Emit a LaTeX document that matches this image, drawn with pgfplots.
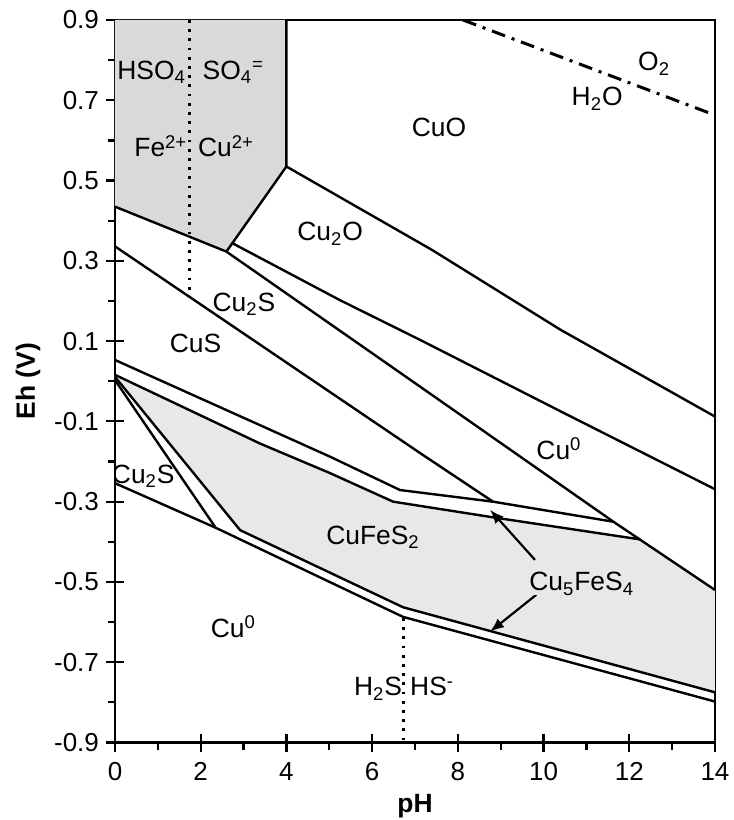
\documentclass[border=0pt]{standalone}
\usepackage{fontspec}
\setmainfont{Liberation Sans}
\usepackage{pgfplots}
\pgfplotsset{compat=1.18}
\usetikzlibrary{arrows.meta}
\newcommand\fs{\fontsize{13.2}{15.5}\selectfont}
\newcommand\ft{\fontsize{13}{15.5}\selectfont}
\begin{document}
\begin{tikzpicture}[font=\fs]
\begin{axis}[name=ax, scale only axis, width=300pt, height=361.25pt,
  xmin=0, xmax=14, ymin=-0.9, ymax=0.9,
  xtick={0,2,4,6,8,10,12,14}, minor xtick={1,3,5,7,9,11,13},
  ytick={-0.9,-0.7,-0.5,-0.3,-0.1,0.1,0.3,0.5,0.7,0.9},
  yticklabels={-0.9,-0.7,-0.5,-0.3,-0.1,0.1,0.3,0.5,0.7,0.9},
  minor ytick={-0.8,-0.6,-0.4,-0.2,0,0.2,0.4,0.6,0.8},
  tick pos=left, tick align=center,
  major tick length=9pt, minor tick length=3.5pt,
  minor x tick style={yshift=-1.75pt},
  minor y tick style={xshift=-1.75pt},
  tick style={line width=1.1pt, black},
  axis line style={line width=1.1pt},
  /pgf/number format/assume math mode=true,
  ticklabel style={font=\ft},
  xticklabel style={yshift=-2pt},
  xlabel={\textbf{pH}}, ylabel={\textbf{Eh (V)}},
  label style={font=\fs},
  clip=true]
% fills
\addplot[fill=black!15, draw=none] coordinates {(0,0.9) (4,0.9) (4,0.535) (2.6,0.323) (0,0.435)} --cycle;
\addplot[fill=black!9, draw=none] coordinates {(0,0.016) (3.38,-0.155) (5.02,-0.229) (6.49,-0.30) (8.82,-0.339) (12.25,-0.394) (14,-0.52) (14,-0.775) (6.72,-0.563) (2.92,-0.371) (0,0.011)} --cycle;
% boundary lines
\addplot[black, line width=1.2pt] coordinates {(0,0.435) (2.6,0.323) (4,0.535) (4,0.9)};
\addplot[black, line width=1.2pt] coordinates {(4,0.535) (7.4,0.327) (10.4,0.128) (14,-0.088)};
\addplot[black, line width=1.2pt] coordinates {(2.72,0.345) (5.25,0.202) (7.12,0.103) (10.38,-0.074) (14,-0.269)};
\addplot[black, line width=1.2pt] coordinates {(2.6,0.323) (7.12,-0.0135) (11.63,-0.35) (14,-0.52)};
\addplot[black, line width=1.2pt] coordinates {(0,0.336) (7.12,-0.179) (8.82,-0.30)};
\addplot[black, line width=1.2pt] coordinates {(0,0.053) (5.02,-0.188) (6.65,-0.271) (8.82,-0.30) (11.63,-0.35)};
\addplot[black, line width=1.2pt] coordinates {(0,0.016) (3.38,-0.155) (5.02,-0.229) (6.49,-0.30) (8.82,-0.339) (12.25,-0.394)};
\addplot[black, line width=1.2pt] coordinates {(0,0.003) (2.33,-0.362)};
\addplot[black, line width=1.2pt] coordinates {(0,0.011) (2.92,-0.371) (6.72,-0.563) (14,-0.775)};
\addplot[black, line width=1.2pt] coordinates {(0,-0.254) (2.37,-0.366) (6.72,-0.587) (14,-0.798)};
% dotted
\addplot[black, line width=1.4pt, dash pattern=on 1.4pt off 3.2pt] coordinates {(1.73,0.9) (1.73,0.211)};
\addplot[black, line width=1.4pt, dash pattern=on 1.4pt off 3.2pt] coordinates {(6.73,-0.59) (6.73,-0.9)};
% dash-dot water line
\addplot[black, line width=1.5pt, dash pattern=on 7pt off 3.5pt on 1.5pt off 3.5pt] coordinates {(8.12,0.9) (14,0.663)};
% arrows
\addplot[black, line width=1.1pt, -{Latex[length=7pt,width=5.5pt]}] coordinates {(9.8,-0.445) (8.75,-0.32)};
\addplot[black, line width=1.1pt, -{Latex[length=7pt,width=5.5pt]}] coordinates {(9.83,-0.532) (8.75,-0.624)};
% labels
\node[anchor=base, inner sep=0] at (axis cs:0.856,0.752) {HSO\textsubscript{4}};
\node[anchor=base, inner sep=0] at (axis cs:2.76,0.752) {SO\textsubscript{4}\textsuperscript{=}};
\node[anchor=base, inner sep=0] at (axis cs:1.07,0.559) {Fe\textsuperscript{2+}};
\node[anchor=base, inner sep=0] at (axis cs:2.59,0.559) {Cu\textsuperscript{2+}};
\node[anchor=base, inner sep=0] at (axis cs:7.56,0.611) {CuO};
\node[anchor=base, inner sep=0] at (axis cs:5.02,0.350) {Cu\textsubscript{2}O};
\node[anchor=base, inner sep=0] at (axis cs:11.25,0.686) {H\textsubscript{2}O};
\node[anchor=base, inner sep=0] at (axis cs:12.58,0.773) {O\textsubscript{2}};
\node[anchor=base, inner sep=0] at (axis cs:3.01,0.175) {Cu\textsubscript{2}S};
\node[anchor=base, inner sep=0] at (axis cs:1.88,0.072) {CuS};
\node[anchor=base, inner sep=0] at (axis cs:10.36,-0.194) {Cu\textsuperscript{0}};
\node[anchor=base, inner sep=0] at (axis cs:0.66,-0.254) {Cu\textsubscript{2}S};
\node[anchor=base, inner sep=0] at (axis cs:6.02,-0.406) {CuFeS\textsubscript{2}};
\node[anchor=base, inner sep=0, fill=black!9] at (axis cs:10.89,-0.522) {Cu\textsubscript{5}FeS\textsubscript{4}};
\node[anchor=base, inner sep=0] at (axis cs:2.76,-0.638) {Cu\textsuperscript{0}};
\node[anchor=base, inner sep=0] at (axis cs:6.14,-0.784) {H\textsubscript{2}S};
\node[anchor=base, inner sep=0] at (axis cs:7.40,-0.784) {HS\textsuperscript{-}};
\end{axis}
\pgfresetboundingbox
\path ([shift={(-57.5pt,-38.75pt)}]ax.south west) rectangle ([shift={(9.5pt,10pt)}]ax.north east);
\end{tikzpicture}
\end{document}
